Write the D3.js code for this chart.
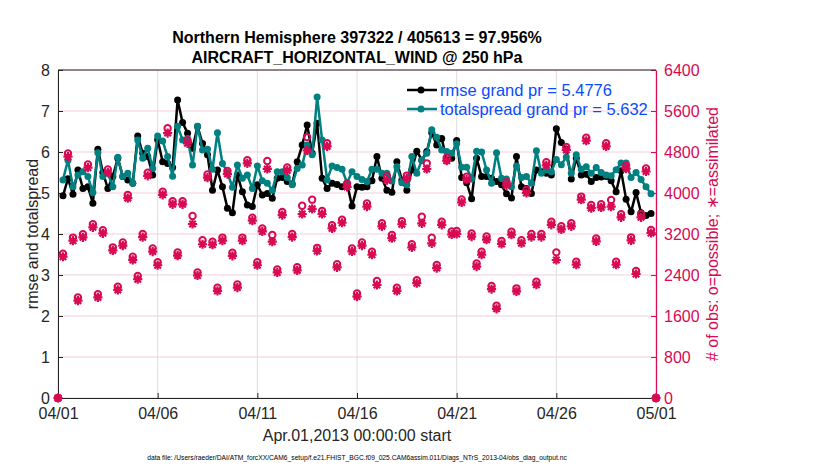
<!DOCTYPE html>
<html><head><meta charset="utf-8">
<script src="https://cdn.jsdelivr.net/npm/d3@7"></script>
<style>
body{margin:0;background:#fff;}
svg{font-family:"Liberation Sans",Arial,Helvetica,sans-serif;}
</style></head>
<body><svg id="c" width="830" height="470"></svg>
<script>
// ---- data ----
const startTime = "2013-04-01T00:00:00Z";
const stepHours = 6;
const xTickLabels = ["04/01","04/06","04/11","04/16","04/21","04/26","05/01"];
const yLeftTicks = [0,1,2,3,4,5,6,7,8];
const yRightTicks = [0,800,1600,2400,3200,4000,4800,5600,6400];
const titleLines = ["Northern Hemisphere 397322 / 405613 = 97.956%","AIRCRAFT_HORIZONTAL_WIND @ 250 hPa"];
const legendLabels = ["rmse grand pr = 5.4776","totalspread grand pr = 5.632"];

const rmse = [null,
4.93,5.35,4.97,5.56,5.11,5.15,4.75,6.07,5.50,5.11,
5.40,5.85,5.40,5.32,5.24,6.39,5.97,5.89,5.44,6.30,
5.76,5.72,5.62,7.27,6.72,6.46,6.09,6.62,6.21,5.93,
5.07,5.56,5.15,4.63,4.52,5.44,5.03,4.71,4.67,5.20,
4.95,4.99,4.87,5.36,5.38,5.28,5.22,5.76,6.17,6.66,
5.97,6.70,5.36,5.11,5.24,5.21,5.15,5.24,4.68,5.15,
5.14,5.15,5.30,5.89,5.36,5.07,5.02,5.76,5.32,5.07,
5.56,6.02,5.80,6.01,6.47,6.17,6.33,5.80,5.85,6.28,
5.38,5.25,4.86,5.85,5.40,5.40,5.36,5.28,5.20,4.98,
4.88,5.89,5.15,5.11,4.99,5.56,5.52,5.48,5.44,6.57,
6.23,6.07,5.34,5.85,5.44,5.46,5.28,5.38,5.39,5.40,
5.30,5.03,5.54,4.85,4.54,5.01,4.52,4.45,4.50,
null];

const totalspread = [null,
5.32,5.80,5.15,5.44,5.52,5.40,5.01,5.98,5.40,5.48,
5.15,5.87,5.40,5.48,5.24,6.29,5.85,6.09,5.60,6.39,
6.27,5.89,5.41,6.63,6.29,6.33,5.68,6.63,6.05,6.07,
5.58,6.47,5.72,5.50,5.14,5.68,5.36,5.44,5.11,5.66,
5.30,5.24,5.07,5.52,5.52,5.38,5.20,5.60,5.68,6.17,
5.93,7.34,6.29,5.32,5.66,5.62,5.58,5.25,5.52,5.40,
5.33,5.28,5.58,5.58,5.48,5.48,5.29,5.64,5.25,5.20,
5.89,5.48,5.80,5.97,6.54,6.36,6.05,6.01,5.97,6.20,
5.63,5.63,5.34,6.02,6.00,5.56,5.24,5.98,5.36,5.34,
5.15,5.66,5.38,5.40,5.24,6.03,5.48,5.56,5.52,5.82,
5.69,5.88,5.48,5.93,5.58,5.64,5.48,5.62,5.50,5.44,
5.42,5.57,5.73,5.73,5.38,5.50,5.33,5.15,4.98,
null];

const obsAssimilated = [0,
2756,4709,3070,1900,3135,4494,3330,1964,3213,4397,
2880,2110,2975,3900,2695,2318,3138,4335,2858,2590,
3965,5170,3780,2780,3780,4970,3395,2390,3000,4300,
2990,2090,3070,4370,2775,2155,3070,4580,3460,2590,
3250,4470,3050,2450,3570,4440,3140,2490,3590,4830,
3690,2870,3590,4910,3310,2550,3420,4120,2860,1980,
2975,3735,2795,2205,3350,4250,3120,2090,3390,4280,
2940,2240,3408,4468,3018,2535,3380,4630,3190,3200,
3815,4260,3150,2565,2795,3090,2125,1740,3005,4150,
3185,2080,3020,4000,3140,2210,3140,4540,3380,2693,
3290,4840,3350,2600,3870,5020,3705,3055,3720,4910,
3733,2600,3525,4475,3075,2420,3525,4420,3220,
0];

const obsPossible = [0,
2815,4770,3130,1960,3195,4555,3390,2025,3275,4460,
2940,2170,3035,3960,2755,2380,3200,4395,2920,2650,
4025,5265,3840,2840,3840,5030,3550,2450,3080,4360,
3050,2150,3130,4430,2835,2215,3130,4640,3520,2650,
3310,4624,3180,2510,3630,4500,3200,2550,3750,5090,
3870,2930,3650,4970,3370,2610,3480,4180,2920,2040,
3035,3795,2855,2283,3410,4330,3180,2150,3450,4340,
3000,2300,3538,4579,3128,2595,3440,4690,3250,3260,
3875,4320,3210,2625,2855,3150,2185,1800,3065,4210,
3245,2140,3080,4060,3200,2270,3200,4600,3440,2842,
3350,4900,3410,2660,3930,5080,3765,3115,3780,4970,
3863,2660,3585,4535,3135,2480,3585,4480,3280,
0];

// ---- chart ----
const svg = d3.select("#c");
const m = {left:58, right:656, top:70, bottom:398};
const obsColor = "#d70a53", teal = "#008080", legendBlue = "#0a4bff";

const t0 = new Date(startTime);
const times = rmse.map((_, i) => new Date(t0.getTime() + i*stepHours*3600*1000));
const x = d3.scaleUtc().domain([t0, new Date(Date.UTC(2013,4,1))]).range([m.left, m.right]);
const yL = d3.scaleLinear().domain([0,8]).range([m.bottom, m.top]);
const yR = d3.scaleLinear().domain([0,6400]).range([m.bottom, m.top]);
const tickDates = xTickLabels.map(s => { const [mm,dd] = s.split("/").map(Number); return new Date(Date.UTC(2013, mm-1, dd)); });

// grids
const g = svg.append("g");
g.selectAll(".vg").data(tickDates).enter().append("line")
  .attr("x1", d=>x(d)).attr("x2", d=>x(d)).attr("y1", m.top).attr("y2", m.bottom)
  .attr("stroke", "#dedede").attr("stroke-width", 1);
g.selectAll(".hg").data(yRightTicks).enter().append("line")
  .attr("x1", m.left).attr("x2", m.right).attr("y1", d=>yR(d)).attr("y2", d=>yR(d))
  .attr("stroke", "#f5cfdc").attr("stroke-width", 1);

// axes
const axB = svg.append("g").attr("transform", `translate(0,${m.bottom})`)
  .call(d3.axisBottom(x).tickValues(tickDates).tickFormat((d,i)=>xTickLabels[i]).tickSizeInner(-5).tickSizeOuter(0).tickPadding(10));
axB.select(".domain").attr("stroke", "#222");
axB.selectAll(".tick line").attr("stroke", "#222");
axB.selectAll("text").attr("font-size", 16).attr("fill", "#262626").attr("font-family","Liberation Sans, Arial, sans-serif");

const axL = svg.append("g").attr("transform", `translate(${m.left},0)`)
  .call(d3.axisLeft(yL).tickValues(yLeftTicks).tickFormat(d3.format("d")).tickSizeInner(-5).tickSizeOuter(0).tickPadding(8));
axL.select(".domain").attr("stroke", "#222");
axL.selectAll(".tick line").attr("stroke", "#222");
axL.selectAll("text").attr("font-size", 16).attr("fill", "#262626").attr("font-family","Liberation Sans, Arial, sans-serif");

const axR = svg.append("g").attr("transform", `translate(${m.right},0)`)
  .call(d3.axisRight(yR).tickValues(yRightTicks).tickFormat(d3.format("d")).tickSizeInner(-5).tickSizeOuter(0).tickPadding(8));
axR.select(".domain").attr("stroke", obsColor).attr("stroke-width", 1.2);
axR.selectAll(".tick line").attr("stroke", obsColor);
axR.selectAll("text").attr("font-size", 16).attr("fill", obsColor).attr("font-family","Liberation Sans, Arial, sans-serif");

// top border
svg.append("line").attr("x1", m.left).attr("x2", m.right).attr("y1", m.top).attr("y2", m.top).attr("stroke", "#222");

// lines
function drawSeries(vals, color){
  const line = d3.line().defined(d => d.v != null).x(d => x(d.t)).y(d => yL(d.v));
  const data = vals.map((v,i)=>({t:times[i], v}));
  svg.append("path").datum(data).attr("d", line).attr("fill","none")
    .attr("stroke", color).attr("stroke-width", 2.5).attr("stroke-linejoin","round");
  svg.append("g").selectAll("circle").data(data.filter(d=>d.v!=null)).enter().append("circle")
    .attr("cx", d=>x(d.t)).attr("cy", d=>yL(d.v)).attr("r", 3.5).attr("fill", color);
}
drawSeries(rmse, "#000");
drawSeries(totalspread, teal);

// obs markers
const star = (cx, cy, s) => {
  const a = s*0.707;
  return `M${cx-s},${cy}L${cx+s},${cy}M${cx},${cy-s}L${cx},${cy+s}M${cx-a},${cy-a}L${cx+a},${cy+a}M${cx-a},${cy+a}L${cx+a},${cy-a}`;
};
const og = svg.append("g");
og.selectAll("circle").data(obsPossible.map((v,i)=>({t:times[i], v}))).enter().append("circle")
  .attr("cx", d=>x(d.t)).attr("cy", d=>yR(d.v)).attr("r", 3.2).attr("fill","none")
  .attr("stroke", obsColor).attr("stroke-width", 2);
og.selectAll("path").data(obsAssimilated.map((v,i)=>({t:times[i], v}))).enter().append("path")
  .attr("d", d=>star(x(d.t), yR(d.v), 4.6)).attr("stroke", obsColor).attr("stroke-width", 2.2).attr("fill","none");

// legend
const lg = svg.append("g");
[["#000", legendLabels[0], 90],[teal, legendLabels[1], 109]].forEach(([c, txt, yy])=>{
  lg.append("line").attr("x1", 407).attr("x2", 437).attr("y1", yy).attr("y2", yy).attr("stroke", c).attr("stroke-width", 2.5);
  lg.append("circle").attr("cx", 421).attr("cy", yy).attr("r", 3.5).attr("fill", c);
  lg.append("text").attr("x", 440).attr("y", yy+6).attr("font-size", 16.5).attr("fill", legendBlue).text(txt);
});

// titles
svg.append("text").attr("x", 357).attr("y", 43).attr("text-anchor","middle").attr("font-size",16).attr("font-weight","bold").attr("fill","#000").text(titleLines[0]);
svg.append("text").attr("x", 357).attr("y", 63).attr("text-anchor","middle").attr("font-size",16).attr("font-weight","bold").attr("fill","#000").text(titleLines[1]);

// axis labels
svg.append("text").attr("transform","translate(38,234) rotate(-90)").attr("text-anchor","middle").attr("font-size",16).attr("fill","#262626").text("rmse and totalspread");
svg.append("text").attr("transform","translate(718,234) rotate(-90)").attr("text-anchor","middle").attr("font-size",16).attr("fill",obsColor).text("# of obs: o=possible; \u2217=assimilated");
svg.append("text").attr("x", 357).attr("y", 441).attr("text-anchor","middle").attr("font-size",16).attr("fill","#262626").text("Apr.01,2013 00:00:00 start");
svg.append("text").attr("x", 357).attr("y", 460).attr("text-anchor","middle").attr("font-size",6.7).attr("fill","#000")
  .text("data file: /Users/raeder/DAI/ATM_forcXX/CAM6_setup/f.e21.FHIST_BGC.f09_025.CAM6assim.011/Diags_NTrS_2013-04/obs_diag_output.nc");
</script></body></html>
